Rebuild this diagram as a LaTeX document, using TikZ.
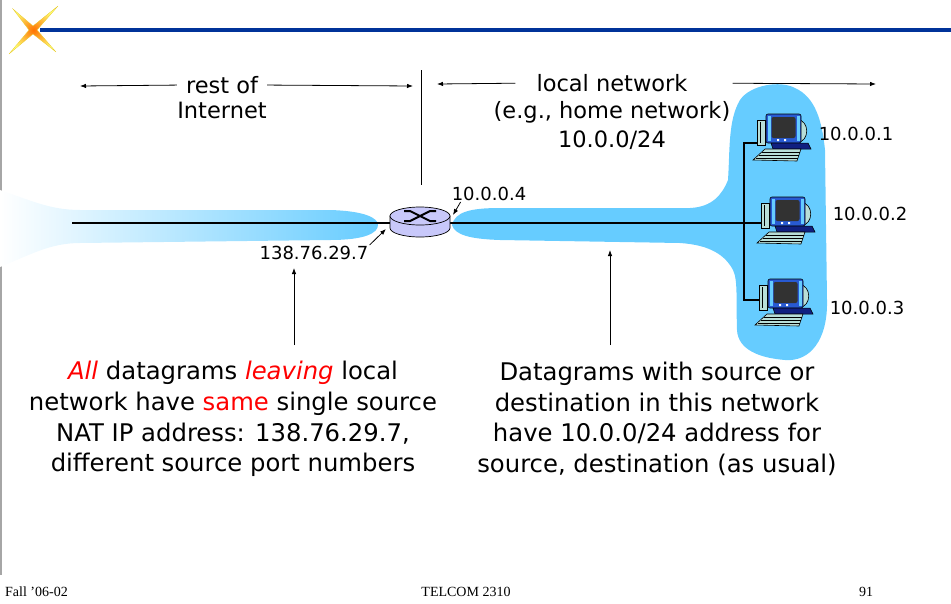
\documentclass[tikz,border=0pt]{standalone}
\usepackage{fontspec}
\setmainfont{DejaVu Sans}
\newfontfamily\footfont{Liberation Serif}
\usetikzlibrary{arrows.meta,calc,positioning}

\definecolor{lanblue}{RGB}{102,204,255}
\definecolor{barblue}{RGB}{0,51,153}
\definecolor{routerfill}{RGB}{200,200,250}
\definecolor{pcteal}{RGB}{184,222,216}
\definecolor{pcblue}{RGB}{40,90,210}
\definecolor{pcnavy}{RGB}{16,32,128}
\definecolor{pcscreen}{RGB}{50,50,50}

\begin{document}
\begin{tikzpicture}[
    x=1pt,
    y=-1pt,
    >={Latex[length=6pt,width=4.5pt]},
    label/.style={inner sep=1pt, font=\fontsize{22.5}{24}\selectfont},
    addr/.style={inner sep=1pt, font=\fontsize{18}{20}\selectfont},
    note/.style={align=center, inner sep=0pt, font=\fontsize{24.3}{30.7}\selectfont},
    foot/.style={anchor=base, inner sep=0pt, font=\footfont\fontsize{14}{16}\selectfont},
    wire/.style={line width=1.2pt},
    pointer/.style={->, line width=0.8pt},
    pc/.pic={
      % tower, monitor, base and keyboard of a desktop host
      \draw[fill=pcteal, line width=0.5pt] (4,5) rectangle (12,30);
      \draw[line width=0.4pt] (7,7) -- (7,28);
      \draw[fill=pcteal, line width=0.6pt] (44,4) .. controls (57,6) and (57,26) .. (44,28) -- cycle;
      \draw[fill=pcblue, rounded corners=2pt, line width=0.6pt] (13,-1) rectangle (48,28);
      \fill[lanblue] (14.5,1) rectangle (17.5,26);
      \fill[lanblue] (43.5,1) rectangle (46.5,26);
      \fill[pcscreen, rounded corners=2pt] (18.5,2) rectangle (42.5,23);
      \fill[white] (24,24) rectangle (26,26) (31,24) rectangle (33,26);
      \draw[fill=pcnavy, line width=0.5pt] (18,28) -- (55,28) -- (58,34) -- (20,34) -- cycle;
      \draw[fill=pcteal, line width=0.6pt] (12,34) -- (48,34) -- (44,46) -- (0,45) -- cycle;
      \draw[line width=0.3pt] (9,37) -- (46.5,37) (6,40) -- (45.5,40) (3,43) -- (44.5,43);
    }
]
\useasboundingbox (0,0) rectangle (951,603);

% slide frame: left rule, title bar and logo
\draw[gray!70, line width=2pt] (1,0) -- (1,575);
\coordinate (barL) at (40,30);
\coordinate (barR) at (951,30);
\draw[barblue, line width=4pt] (barL) -- (barR);
\shadedraw[inner color=orange!90!red, outer color=yellow!55, draw=yellow!60!brown, line width=0.3pt]
  (13,9) -- (33,26) -- (58,6) -- (37,30) -- (56,52) -- (33,34) -- (9,54) -- (29,30) -- cycle;

% address regions
\shade[left color=white, right color=lanblue]
  (0,190) .. controls (30,200) and (50,210) .. (80,210) -- (330,210)
  .. controls (365,211) and (378,218) .. (378,225)
  .. controls (378,233) and (365,240) .. (330,240) -- (80,243)
  .. controls (50,243) and (30,255) .. (0,267) -- cycle;
\fill[lanblue]
  (452,225) .. controls (455,212) and (470,208) .. (500,208) -- (690,208)
  .. controls (712,207) and (722,195) .. (728,180)
  .. controls (730,150) and (728,120) .. (740,100)
  .. controls (750,85) and (780,80) .. (795,88)
  .. controls (815,97) and (822,120) .. (825,150) -- (827,300)
  .. controls (828,340) and (810,362) .. (785,360)
  .. controls (760,358) and (738,350) .. (737,330)
  .. controls (736,300) and (738,280) .. (733,270)
  .. controls (725,255) and (710,245) .. (680,243) -- (500,240)
  .. controls (470,239) and (455,235) .. (452,225) -- cycle;

% NAT router
\node[minimum width=60pt, minimum height=31pt, inner sep=0pt] (router) at (420,223) {};
\coordinate (wanEnd) at (72,223);
\coordinate (bus) at (744,223);
\coordinate (pc1port) at (757,143);
\coordinate (pc2port) at (761,223);
\coordinate (pc3port) at (759,300);
\draw[wire] (wanEnd) -- (router.west);
\draw[wire] (router.east) -- (pc2port);
\draw[wire] (pc1port) -- (pc1port -| bus) -- (pc3port -| bus) -- (pc3port);
\draw[fill=routerfill, line width=0.7pt] (390,216) -- (390,228)
  arc[start angle=180, end angle=0, x radius=30, y radius=9] -- (450,216) -- cycle;
\draw[fill=routerfill, line width=0.7pt] (420,216) ellipse[x radius=30, y radius=9];
\draw[line width=2pt] (404,211) -- (410,211) -- (430,221) -- (436,221);
\draw[line width=2pt] (404,221) -- (410,221) -- (430,211) -- (436,211);

% hosts
\pic at (753,115) {pc};
\pic at (757,198) {pc};
\pic at (755,280) {pc};
\node[addr] (h1) at (856,134) {10.0.0.1};
\node[addr] (h2) at (870,214) {10.0.0.2};
\node[addr] (h3) at (867,308) {10.0.0.3};

% router interfaces
\node[addr] (lan4) at (489,194) {10.0.0.4};
\coordinate (routerLan) at (453,215);
\draw[pointer] ([xshift=10pt]lan4.south west) -- (routerLan);
\node[addr] (wan) at (314,253) {138.76.29.7};
\coordinate (routerWan) at (386,229);
\draw[pointer] (wan.north east) -- (routerWan);

% extent of the two sides
\coordinate (divTop) at (421,70);
\coordinate (divBot) at (421,185);
\draw[line width=0.8pt] (divTop) -- (divBot);
\node[label] (restof) at (222,85) {rest of};
\node[label] (internet) at (222,110) {Internet};
\coordinate (inetL) at (80,86);
\coordinate (inetR) at (413,86);
\draw[pointer, shorten <=8pt] (restof.west) -- (inetL);
\draw[pointer, shorten <=8pt] (restof.east) -- (inetR);
\node[label] (localnet) at (612,83) {local network};
\node[label] (homenet) at (612,112) {(e.g., home network)};
\node[label] (subnet) at (612,140) {10.0.0/24};
\coordinate (lanL) at (437,84);
\coordinate (lanR) at (876,84);
\draw[pointer, shorten <=20pt] (localnet.west) -- (lanL);
\draw[pointer, shorten <=44pt] (localnet.east) -- (lanR);

% notes
\node[note] (wanNote) at (233,419) {{\color{red}\itshape All} datagrams {\color{red}\itshape leaving} local\\
  network have {\color{red}same} single source\\
  NAT IP address: 138.76.29.7,\\
  dif{}ferent source port numbers};
\node[note] (lanNote) at (657,419) {Datagrams with source or\\
  destination in this network\\
  have 10.0.0/24 address for\\
  source, destination (as usual)};
\coordinate (wanTip) at (294,268);
\coordinate (wanTail) at (294,345);
\draw[pointer] (wanTail) -- (wanTip);
\coordinate (lanTip) at (610,250);
\coordinate (lanTail) at (610,345);
\draw[pointer] (lanTail) -- (lanTip);

% footer
\node[foot, anchor=base west] (course) at (5,596) {Fall ’06-02};
\node[foot] (title) at (466,596) {TELCOM 2310};
\node[foot] (page) at (866,596) {91};
\end{tikzpicture}
\end{document}
